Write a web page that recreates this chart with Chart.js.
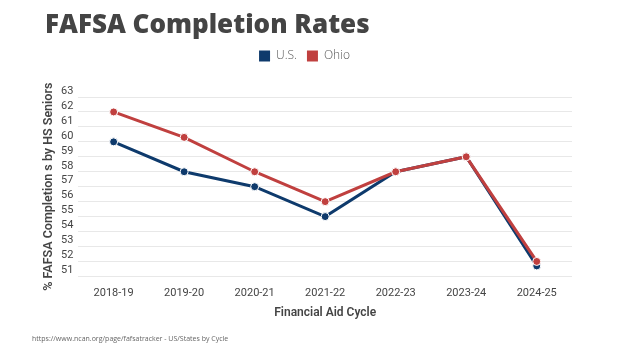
<!DOCTYPE html>
<html>
<head>
<meta charset="utf-8">
<script src="https://cdn.jsdelivr.net/npm/chart.js@4.4.1/dist/chart.umd.min.js"></script>
<style>
  html, body { margin: 0; padding: 0; background: #fff; }
  #wrap { position: relative; width: 626px; height: 353px; }
  #title {
    position: absolute; left: 45px; top: 5px;
    font-family: "Open Sans", sans-serif; font-weight: 800; font-size: 26px;
    color: #444; white-space: nowrap;
  }
  #source {
    position: absolute; left: 32px; top: 334px;
    font-family: "Open Sans", sans-serif; font-size: 7px; color: #666; white-space: nowrap;
  }
</style>
</head>
<body>
<div id="wrap">
  <canvas id="fafsaChart" width="626" height="353"></canvas>
  <div id="title">FAFSA Completion Rates</div>
  <div id="source">https://www.ncan.org/page/fafsatracker - US/States by Cycle</div>
</div>
<script>
const cycles = ['2018-19', '2019-20', '2020-21', '2021-22', '2022-23', '2023-24', '2024-25'];
const usRates = [60, 58, 57, 55, 58, 59, 51.7];
const ohioRates = [62, 60.3, 58, 56, 58, 59, 52];
const yTicks = [51, 52, 53, 54, 55, 56, 57, 58, 59, 60, 61, 62, 63];

// push the plot down below the legend
const legendGap = {
    id: 'legendGap',
    beforeInit(chart) {
        const fit = chart.legend.fit;
        chart.legend.fit = function () {
            fit.bind(chart.legend)();
            this.height += 25;
        };
    }
};

const ctx = document.getElementById('fafsaChart').getContext('2d');
new Chart(ctx, {
    type: 'line',
    data: {
        labels: cycles,
        datasets: [{
            label: 'U.S.',
            data: usRates,
            borderColor: '#0e3a6c',
            backgroundColor: '#0e3a6c',
            borderWidth: 3,
            pointRadius: 4,
            pointBorderColor: '#ffffff',
            pointBorderWidth: 1,
            pointBackgroundColor: '#0e3a6c',
            order: 2
        }, {
            label: 'Ohio',
            data: ohioRates,
            borderColor: '#c0403f',
            backgroundColor: '#c0403f',
            borderWidth: 3,
            pointRadius: 4,
            pointBorderColor: '#ffffff',
            pointBorderWidth: 1,
            pointBackgroundColor: '#c0403f',
            order: 1
        }]
    },
    options: {
        responsive: false,
        animation: false,
        layout: { padding: { top: 40, left: 37, right: 54, bottom: 29 } },
        scales: {
            x: {
                offset: true,
                grid: { display: false },
                border: { display: false },
                ticks: { color: '#444', font: { family: 'Roboto', size: 11 }, padding: 2, autoSkip: false, maxRotation: 0 },
                title: {
                    display: true,
                    text: 'Financial Aid Cycle',
                    color: '#444',
                    font: { family: 'Roboto', size: 12, weight: '600' },
                    padding: { top: 4 }
                }
            },
            y: {
                min: 51,
                max: 63,
                afterBuildTicks: axis => { axis.ticks = yTicks.map(v => ({ value: v })); },
                grid: { color: '#e8e8e8', lineWidth: 1, drawTicks: false },
                border: { display: false },
                ticks: { color: '#444', font: { family: 'Roboto', size: 11 }, padding: 5, labelOffset: -6, autoSkip: false },
                title: {
                    display: true,
                    text: '% FAFSA Completion s by HS Seniors',
                    color: '#444',
                    font: { family: 'Roboto', size: 12.5, weight: '600' },
                    padding: { bottom: 0 }
                }
            }
        },
        plugins: {
            legend: {
                position: 'top',
                labels: {
                    boxWidth: 11,
                    boxHeight: 11,
                    color: '#555',
                    font: { family: 'Open Sans', size: 12, weight: '300' },
                    padding: 10,
                    generateLabels: chart => chart.data.datasets.map((ds, i) => ({
                        text: ds.label,
                        fillStyle: ds.borderColor,
                        strokeStyle: ds.borderColor,
                        lineWidth: 0,
                        fontColor: '#555',
                        datasetIndex: i
                    }))
                }
            },
            tooltip: { enabled: false }
        }
    },
    plugins: [legendGap]
});
</script>
</body>
</html>
